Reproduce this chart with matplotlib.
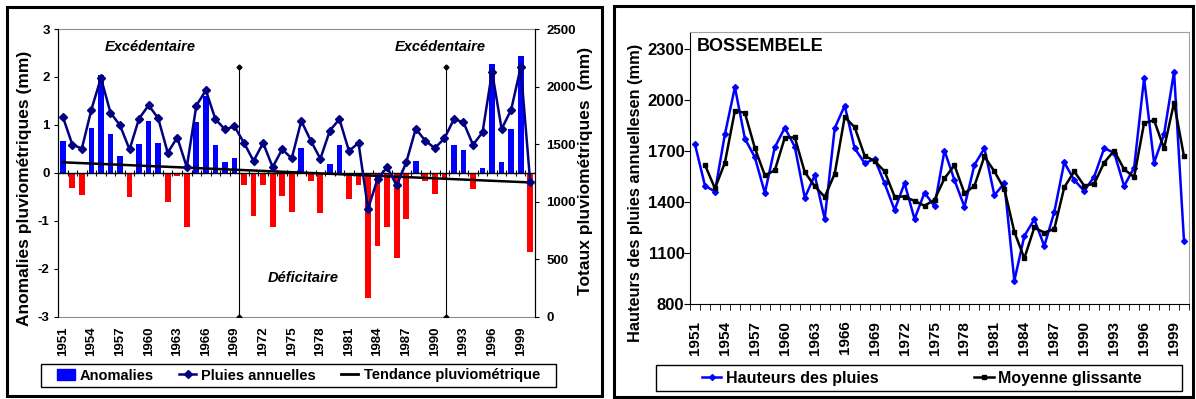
import matplotlib.pyplot as plt
import numpy as np
from matplotlib.lines import Line2D
from matplotlib.patches import Patch, Rectangle

plt.rcParams['font.family'] = ['Liberation Sans', 'DejaVu Sans']
plt.rcParams['font.weight'] = 'bold'
plt.rcParams['axes.labelweight'] = 'bold'
plt.rcParams['axes.unicode_minus'] = False

W, H = 1196, 399

years = np.arange(1951, 2001)

# annual rainfall at Bossembele (mm)
pluies = [1739, 1496, 1461, 1800, 2075, 1773, 1663, 1453, 1722, 1837,
          1725, 1425, 1557, 1300, 1834, 1967, 1716, 1628, 1653, 1510,
          1353, 1510, 1300, 1455, 1375, 1702, 1529, 1372, 1618, 1716,
          1440, 1510, 937, 1200, 1298, 1141, 1340, 1633, 1529, 1465,
          1549, 1716, 1690, 1494, 1602, 2128, 1631, 1798, 2167, 1169]

# standardised anomalies
anomalies = [0.67, -0.32, -0.46, 0.93, 2.05, 0.82, 0.36, -0.50, 0.61, 1.08,
             0.62, -0.61, -0.07, -1.12, 1.07, 1.61, 0.58, 0.22, 0.32, -0.26,
             -0.91, -0.26, -1.12, -0.49, -0.82, 0.52, -0.18, -0.83, 0.18, 0.58,
             -0.55, -0.26, -2.61, -1.53, -1.13, -1.77, -0.96, 0.24, -0.18, -0.45,
             -0.10, 0.58, 0.48, -0.33, 0.11, 2.27, 0.23, 0.92, 2.43, -1.66]

# 2-year moving average (mm)
moyenne = [np.nan, 1618, 1480, 1632, 1938, 1924, 1717, 1557, 1586, 1779,
           1780, 1575, 1493, 1430, 1566, 1900, 1840, 1672, 1641, 1580,
           1432, 1432, 1406, 1378, 1413, 1539, 1616, 1451, 1495, 1668,
           1580, 1476, 1224, 1069, 1250, 1220, 1241, 1486, 1580, 1496,
           1507, 1632, 1702, 1592, 1547, 1864, 1881, 1715, 1984, 1668]

tendance_years = [1951, 2000]
tendance = [0.22, -0.20]

ruptures = [1969.5, 1991.2]
rupture_lim = [-3, 2.2]

BLUE = '#0000FF'
RED = '#FF0000'
NAVY = '#000080'
GREY = '#8C8C8C'


def fig_box(x0, y0, x1, y1):
    return [x0 / W, 1 - y1 / H, (x1 - x0) / W, (y1 - y0) / H]


fig = plt.figure(figsize=(W / 100, H / 100), dpi=100)

# outer frames of both panels and legend boxes
for x0, y0, x1, y1, lw in [(7, 7, 602, 396, 2.2), (614, 6, 1193, 397, 2.2),
                           (41, 364, 556, 387, 1.0), (656, 365, 1182, 391, 1.0)]:
    b = fig_box(x0, y0, x1, y1)
    fig.patches.append(Rectangle((b[0], b[1]), b[2], b[3], transform=fig.transFigure,
                                 fill=False, lw=lw, ec='black'))

# ---------- left panel: anomalies + annual totals ----------
ax = fig.add_axes(fig_box(58, 29, 535, 316.7))
anom = np.array(anomalies)
ax.bar(years, anom, width=0.6, color=np.where(anom >= 0, BLUE, RED), zorder=2)
ax.set_xlim(1950.5, 2000.5)
ax.set_ylim(-3, 3)
ax.axhline(0, color='black', lw=1, zorder=3)
ax.vlines(years[:-1] + 0.5, -0.06, 0.06, color='black', lw=0.8, zorder=3)
ax.plot(tendance_years, tendance, color='black', lw=1.8, zorder=4)
for r in ruptures:
    ax.plot([r, r], rupture_lim, color='black', lw=0.8, marker='D', ms=2.5, zorder=4)

ax.set_yticks(range(-3, 4))
ax.set_xticks(years[::3])
ax.set_xticklabels(years[::3], rotation=90)
ax.tick_params(axis='x', length=0, pad=7, labelsize=9.5)
ax.tick_params(axis='y', length=3, direction='out', labelsize=9.5, pad=3)
for s in ['top', 'bottom']:
    ax.spines[s].set_color(GREY)
    ax.spines[s].set_linewidth(0.8)
ax.set_ylabel('Anomalies pluviométriques (mm)', fontsize=12.5)
ax.yaxis.set_label_coords(-0.054, 0.446)

ax.text(0.193, 0.9375, 'Excédentaire', transform=ax.transAxes, ha='center', va='center',
        fontsize=10.5, style='italic')
ax.text(0.802, 0.9375, 'Excédentaire', transform=ax.transAxes, ha='center', va='center',
        fontsize=10.5, style='italic')
ax.text(0.515, 0.1345, 'Déficitaire', transform=ax.transAxes, ha='center', va='center',
        fontsize=10.5, style='italic')

ax2 = ax.twinx()
ax2.plot(years, pluies, color=NAVY, lw=1.8, marker='D', ms=4.5)
ax2.set_ylim(0, 2500)
ax2.set_yticks(range(0, 2501, 500))
ax2.tick_params(axis='y', length=3, direction='out', labelsize=9.5, pad=5)
ax2.spines['top'].set_visible(False)
ax2.spines['bottom'].set_visible(False)
ax2.set_ylabel('Totaux pluviométriques  (mm)', fontsize=12.5)
ax2.yaxis.set_label_coords(1.09, 0.505)

fig.legend([Patch(color=BLUE),
            Line2D([], [], color=NAVY, lw=1.8, marker='D', ms=4),
            Line2D([], [], color='black', lw=2)],
           ['Anomalies', 'Pluies annuelles', 'Tendance pluviométrique'],
           loc='center', bbox_to_anchor=(298.5 / W, 1 - 375.5 / H), ncol=3,
           frameon=False, handlelength=1.2, handletextpad=0.35,
           columnspacing=1.7, prop={'weight': 'bold', 'size': 10.5})

# ---------- right panel: Bossembele series ----------
ax3 = fig.add_axes(fig_box(690, 32, 1189, 304))
ax3.plot(years, pluies, color=BLUE, lw=1.8, marker='D', ms=3)
ax3.plot(years, moyenne, color='black', lw=1.8, marker='s', ms=2.5)
ax3.set_xlim(1950.5, 2000.5)
ax3.set_ylim(800, 2400)
ax3.set_yticks(range(800, 2301, 300))
ax3.set_xticks(years[::3])
ax3.set_xticklabels(years[::3], rotation=90)
ax3.set_xticks(np.append(years - 0.5, 2000.5), minor=True)
ax3.tick_params(axis='x', which='major', length=0, pad=12, labelsize=11)
ax3.tick_params(axis='x', which='minor', length=4, direction='out')
ax3.tick_params(axis='y', length=4, direction='out', labelsize=12, pad=0)
for s in ['top', 'right']:
    ax3.spines[s].set_color('#A0A0A0')
ax3.set_ylabel('Hauteurs des pluies annuellesen (mm)', fontsize=11.8)
ax3.yaxis.set_label_coords(-0.094, 0.41)
ax3.text(0.014, 0.945, 'BOSSEMBELE', transform=ax3.transAxes, ha='left', va='center',
         fontsize=13)

fig.legend([Line2D([], [], color=BLUE, lw=1.8, marker='D', ms=3),
            Line2D([], [], color='black', lw=1.8, marker='s', ms=2.5)],
           ['Hauteurs des pluies', 'Moyenne glissante'],
           loc='center', bbox_to_anchor=(922 / W, 1 - 378 / H), ncol=2,
           frameon=False, handlelength=1.2, handletextpad=0.3, columnspacing=6,
           prop={'weight': 'bold', 'size': 11.5})

fig.savefig('out.png', dpi=100)
